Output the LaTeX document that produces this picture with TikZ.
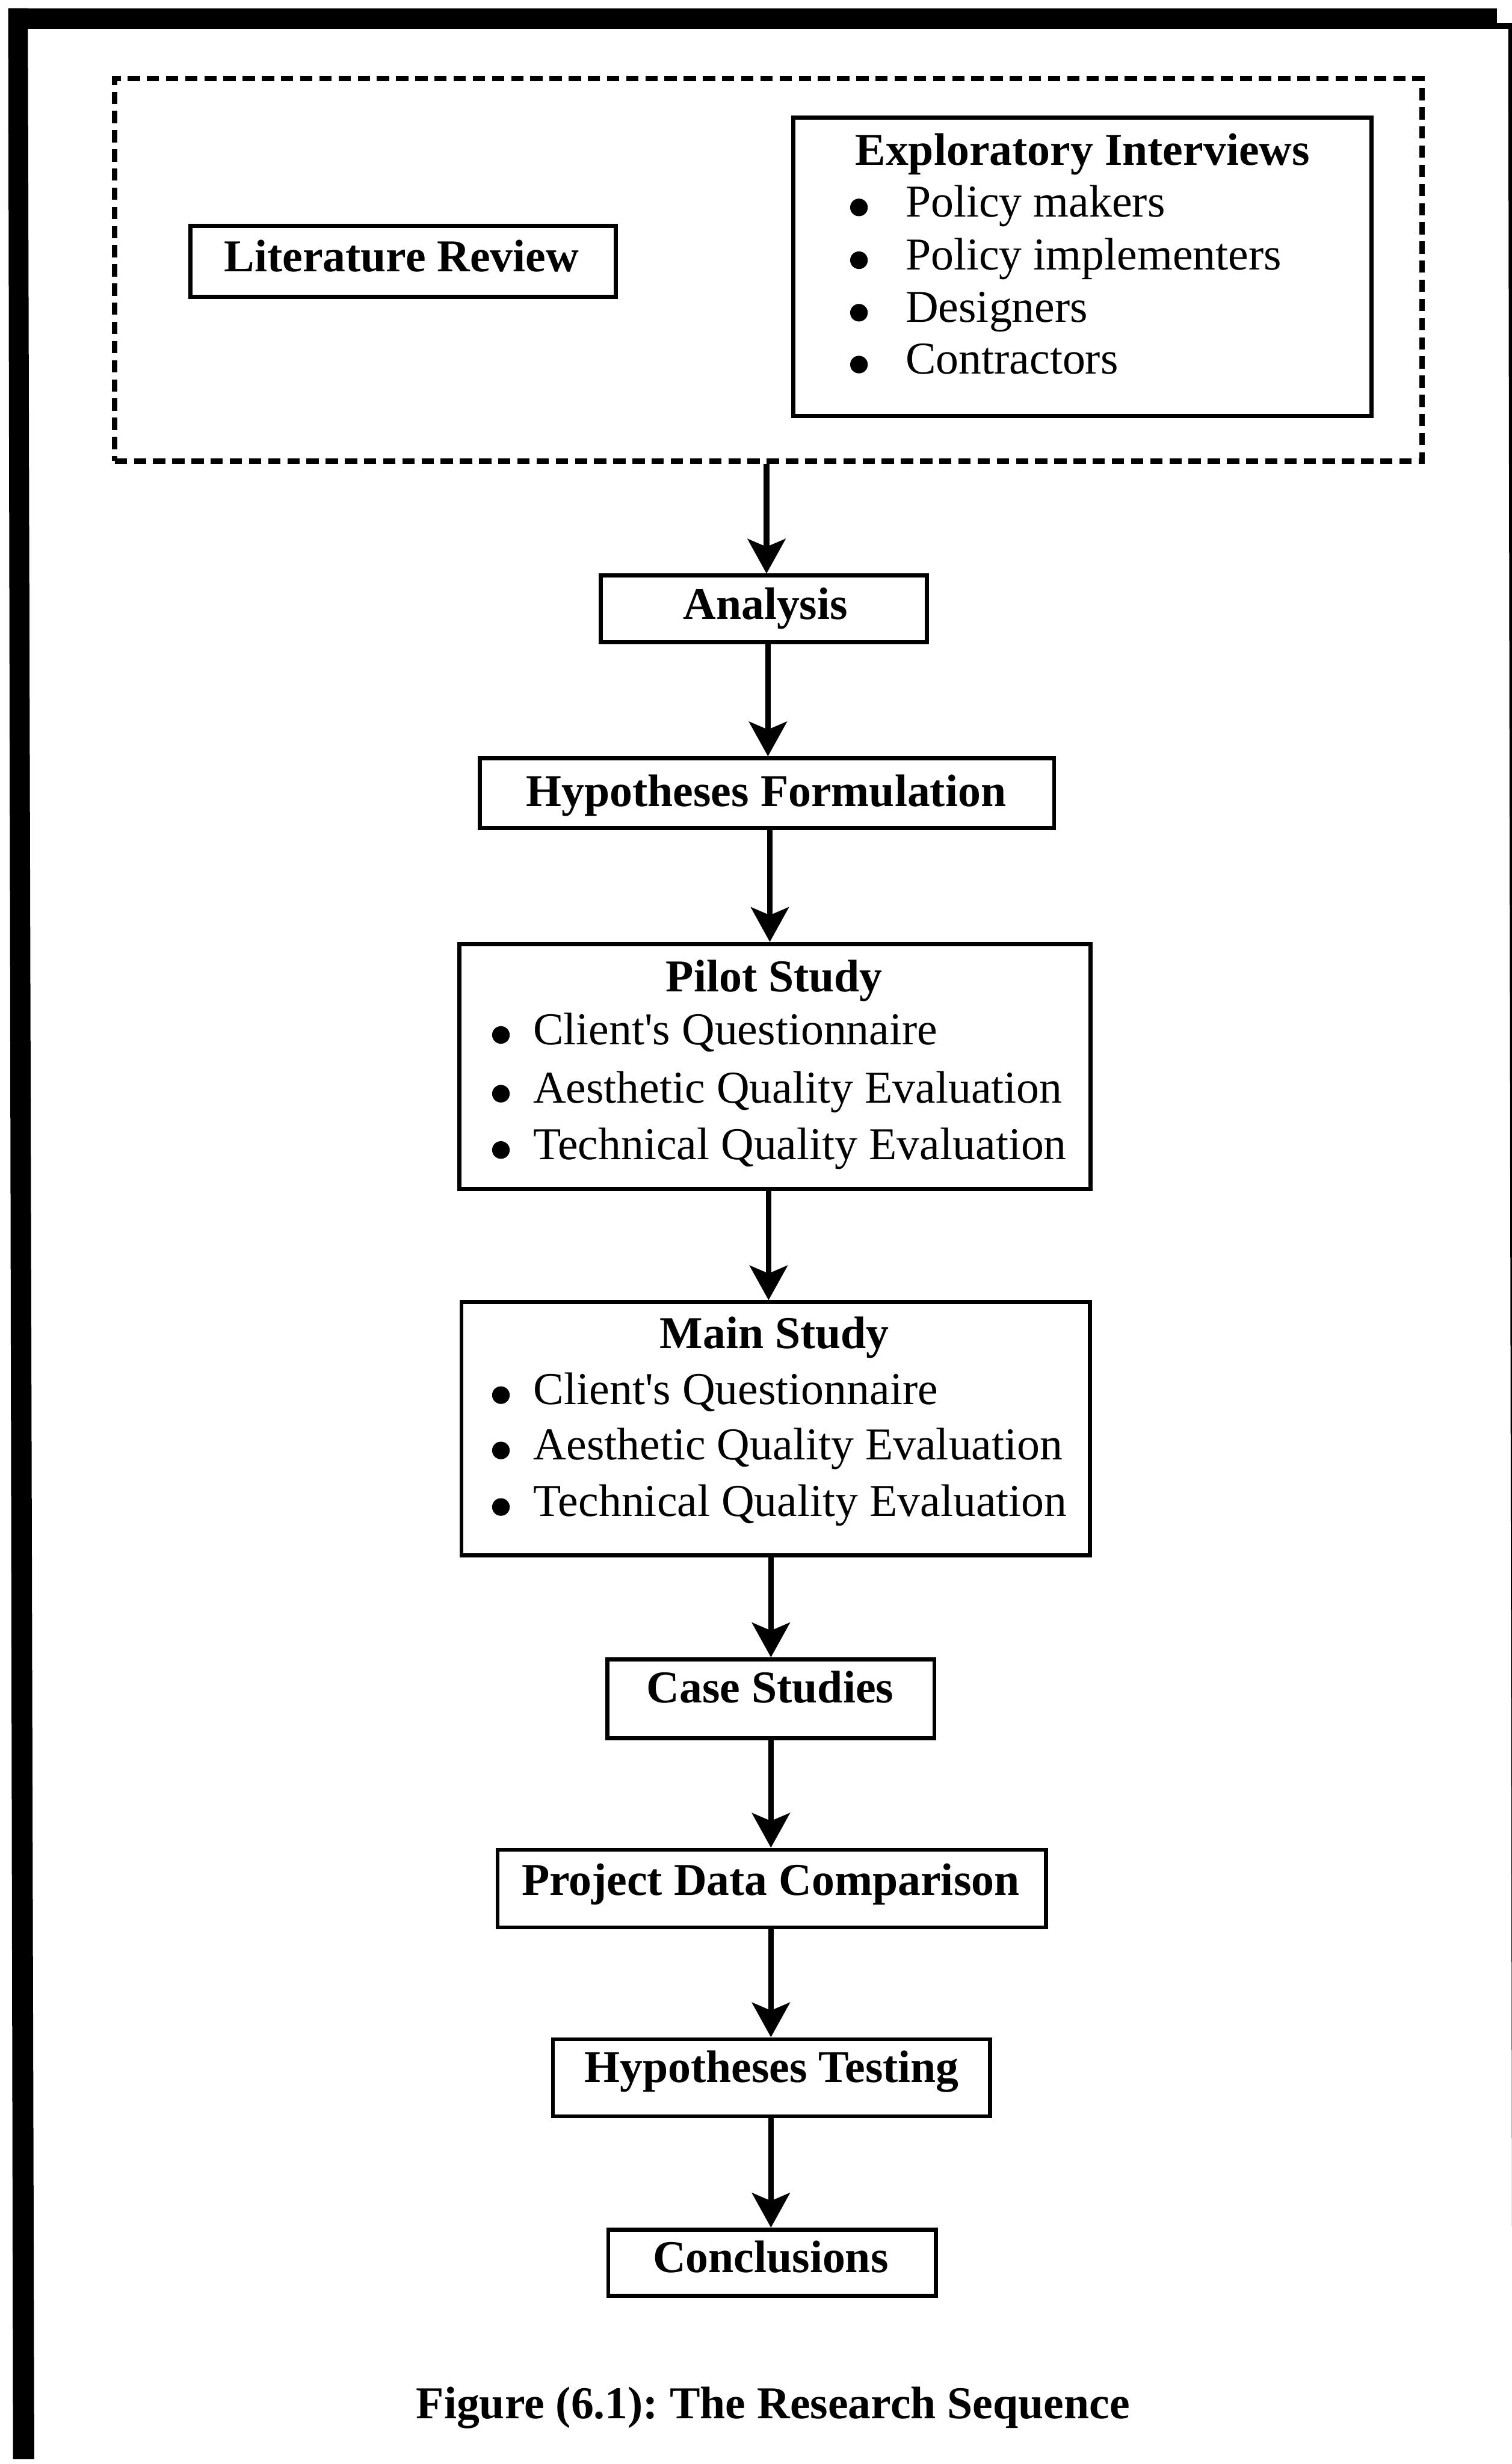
\documentclass[tikz,border=0pt]{standalone}
\usepackage{fontspec}
\setmainfont{Liberation Serif}
\usetikzlibrary{arrows.meta}
\tikzset{
  boxnode/.style={draw=black, line width=2.6pt, rectangle, inner sep=0pt},
  groupbox/.style={draw=black, line width=3.3pt, dash pattern=on 7.8pt off 4.4pt, rectangle, inner sep=0pt},
  headtext/.style={font=\fontsize{29}{35}\selectfont\bfseries, inner sep=0pt, anchor=base},
  itemtext/.style={font=\fontsize{29}{35}\selectfont, inner sep=0pt, anchor=base west},
  flow/.style={line width=3.6pt, -{Stealth[length=22pt,width=24pt,inset=5pt]}},
  dot/.style={fill=black},
}
\frenchspacing
\begin{document}
\begin{tikzpicture}[x=1pt,y=-1pt]
\useasboundingbox (0,0) rectangle (962,1568);
\fill[white] (0,0) rectangle (962,1568);

% page frame
\fill (5.2,5.2) rectangle (952.6,18.5);
\fill (952.6,14.6) rectangle (962,18.5);
\fill (5.2,5.2) -- (17.7,5.2) -- (21.8,1565) -- (8.3,1565) -- cycle;
\fill (959.6,14.6) -- (962.2,14.6) -- (964.6,1420) -- (962,1420) -- cycle;

% first stage: literature and interviews
\node[groupbox, minimum width=831.8pt, minimum height=243.4pt] (group) at (488.9,171.7) {};
\node[boxnode, minimum width=270.6pt, minimum height=45.2pt] (lit) at (256.4,166.4) {};
\node[headtext] (litT) at (255.5,172.7) {Literature Review};

\node[boxnode, minimum width=367.9pt, minimum height=189.8pt] (expl) at (688.75,169.8) {};
\node[headtext] (explT) at (688.75,105) {Exploratory Interviews};
\fill[dot] (546.5,132) circle (5.6pt);
\node[itemtext] (e1) at (576,138) {Policy makers};
\fill[dot] (546.5,165.6) circle (5.6pt);
\node[itemtext] (e2) at (576,171.6) {Policy implementers};
\fill[dot] (546.5,199) circle (5.6pt);
\node[itemtext] (e3) at (576,205) {Designers};
\fill[dot] (546.5,232) circle (5.6pt);
\node[itemtext] (e4) at (576,238) {Contractors};

% analysis and hypotheses
\node[boxnode, minimum width=207.4pt, minimum height=42.4pt] (analysis) at (486,387.5) {};
\node[headtext] (analysisT) at (487,394) {Analysis};
\node[boxnode, minimum width=365.4pt, minimum height=44.4pt] (hyp) at (488,504.8) {};
\node[headtext] (hypT) at (487.5,513) {Hypotheses Formulation};

% pilot study
\node[boxnode, minimum width=401.5pt, minimum height=156pt] (pilot) at (493,678.7) {};
\node[headtext] (pilotT) at (492.6,631) {Pilot Study};
\fill[dot] (318.7,658.6) circle (5.6pt);
\node[itemtext] (p1) at (339,664.6) {Client\textquotesingle s Questionnaire};
\fill[dot] (318.7,696) circle (5.6pt);
\node[itemtext] (p2) at (339,702) {Aesthetic Quality Evaluation};
\fill[dot] (318.7,731.8) circle (5.6pt);
\node[itemtext] (p3) at (339,737.8) {Technical Quality Evaluation};

% main study
\node[boxnode, minimum width=400pt, minimum height=161pt] (main) at (493.6,909.2) {};
\node[headtext] (mainT) at (492.8,858) {Main Study};
\fill[dot] (318.7,887.8) circle (5.6pt);
\node[itemtext] (m1) at (339.3,893.8) {Client\textquotesingle s Questionnaire};
\fill[dot] (318.7,923) circle (5.6pt);
\node[itemtext] (m2) at (339.3,929) {Aesthetic Quality Evaluation};
\fill[dot] (318.7,959) circle (5.6pt);
\node[itemtext] (m3) at (339.3,965) {Technical Quality Evaluation};

% remaining steps
\node[boxnode, minimum width=208pt, minimum height=50.1pt] (cases) at (490.5,1081) {};
\node[headtext] (casesT) at (490,1083.4) {Case Studies};
\node[boxnode, minimum width=348.8pt, minimum height=49.4pt] (project) at (491,1201.8) {};
\node[headtext] (projectT) at (490.3,1206) {Project Data Comparison};
\node[boxnode, minimum width=278.2pt, minimum height=49pt] (testing) at (490.9,1322.2) {};
\node[headtext] (testingT) at (491,1325) {Hypotheses Testing};
\node[boxnode, minimum width=208.4pt, minimum height=42.1pt] (concl) at (491.2,1439.9) {};
\node[headtext] (conclT) at (490.3,1446.2) {Conclusions};

% connectors
\coordinate (x1) at (487.7,0);
\coordinate (x2) at (488.6,0);
\coordinate (x3) at (489.8,0);
\coordinate (x4) at (489,0);
\coordinate (x5) at (490.5,0);
\draw[flow] (group.south -| x1) -- (analysis.north -| x1);
\draw[flow] (analysis.south -| x2) -- (hyp.north -| x2);
\draw[flow] (hyp.south -| x3) -- (pilot.north -| x3);
\draw[flow] (pilot.south -| x4) -- (main.north -| x4);
\draw[flow] (main.south -| x5) -- (cases.north -| x5);
\draw[flow] (cases.south -| x5) -- (project.north -| x5);
\draw[flow] (project.south -| x5) -- (testing.north -| x5);
\draw[flow] (testing.south -| x5) -- (concl.north -| x5);

% caption
\node[headtext] (caption) at (491.8,1539) {Figure (6.1): The Research Sequence};
\end{tikzpicture}
\end{document}
